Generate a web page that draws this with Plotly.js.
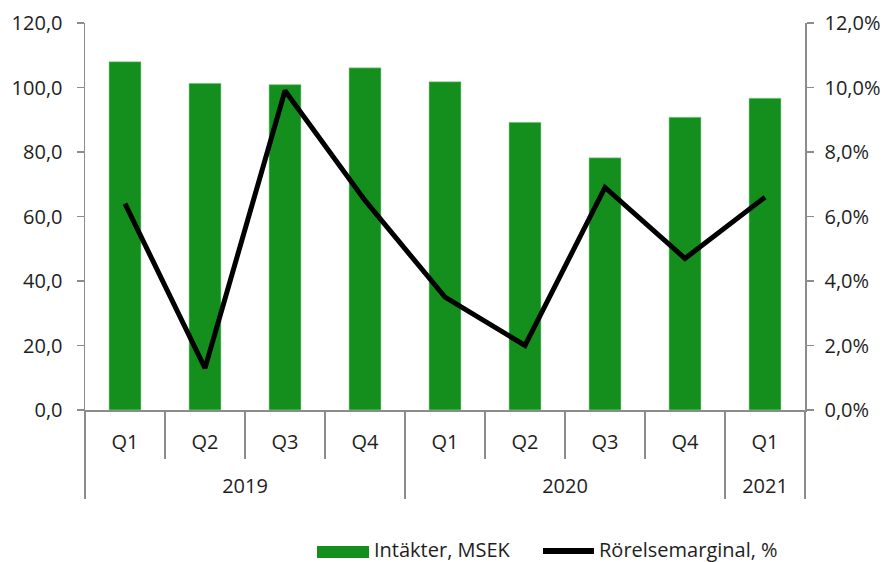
<!DOCTYPE html>
<html>
<head>
<meta charset="utf-8">
<script src="https://cdn.plot.ly/plotly-3.0.1.min.js"></script>
<style>html,body{margin:0;padding:0;background:#fff;}#chart{width:886px;height:562px;}</style>
</head>
<body>
<div id="chart"></div>
<script>
var years = ['2019','2019','2019','2019','2020','2020','2020','2020','2021'];
var quarters = ['Q1','Q2','Q3','Q4','Q1','Q2','Q3','Q4','Q1'];
var revenue = [108.0, 101.3, 100.9, 106.1, 101.8, 89.2, 78.2, 90.8, 96.7];
var margin = [6.4, 1.3, 9.9, 6.5, 3.5, 2.0, 6.9, 4.7, 6.6];
var seriesNames = ['Intäkter, MSEK', 'Rörelsemarginal, %'];
var seriesColors = ['#148f1e', '#000000'];

var FONT = '"Open Sans", "Noto Sans", sans-serif';
var AX = '#8c8c8c';
var TXT = '#1e1e1e';
var W = 886, H = 562, ML = 85, MR = 81, MT = 23, MB = 152;
var PW = W - ML - MR, PH = H - MT - MB;
function px(x) { return (x - ML) / PW; }
function py(y) { return (H - MB - y) / PH; }

// quarter labels get an empty second line so the year row sits lower
var quarterLabels = quarters.map(function (q) {
  return q + '<br><span style="font-size:27px">\u00a0</span>';
});

var traces = [
  {
    type: 'bar', name: seriesNames[0],
    x: [years, quarterLabels], y: revenue,
    marker: {color: seriesColors[0], line: {color: '#9fd6a3', width: 0.6}},
    yaxis: 'y', hoverinfo: 'skip', showlegend: false
  },
  {
    type: 'scatter', mode: 'lines', name: seriesNames[1],
    x: [years, quarterLabels], y: margin,
    line: {color: seriesColors[1], width: 5},
    yaxis: 'y2', hoverinfo: 'skip', showlegend: false
  }
];

var shapes = [
  {type: 'rect', xref: 'paper', yref: 'paper', x0: px(317), x1: px(369), y0: py(558), y1: py(546),
   fillcolor: seriesColors[0], line: {width: 0}},
  {type: 'line', xref: 'paper', yref: 'paper', x0: px(543), x1: px(594), y0: py(551), y1: py(551),
   line: {color: seriesColors[1], width: 6}}
];
var annotations = [
  {xref: 'paper', yref: 'paper', x: px(372), y: py(549), xanchor: 'left', yanchor: 'middle',
   text: seriesNames[0], showarrow: false, font: {family: FONT, size: 20, color: TXT}},
  {xref: 'paper', yref: 'paper', x: px(597), y: py(549), xanchor: 'left', yanchor: 'middle',
   text: seriesNames[1], showarrow: false, font: {family: FONT, size: 20, color: TXT}}
];

var layout = {
  width: W, height: H,
  margin: {l: ML, r: MR, t: MT, b: MB},
  paper_bgcolor: '#fff', plot_bgcolor: '#fff',
  font: {family: FONT, size: 20, color: TXT},
  separators: ',.',
  bargap: 0.6,
  showlegend: false,
  shapes: shapes,
  annotations: annotations,
  xaxis: {
    type: 'multicategory', automargin: false,
    showline: true, linecolor: AX, linewidth: 1.5,
    ticks: 'outside', tickson: 'boundaries', ticklen: 47, tickcolor: AX, tickwidth: 1.5,
    ticklabelstandoff: 13,
    showdividers: true, dividercolor: AX, dividerwidth: 1.5,
    showgrid: false, zeroline: false,
    tickfont: {family: FONT, size: 20, color: TXT}
  },
  yaxis: {
    range: [0, 120], dtick: 20, tick0: 0, tickformat: '.1f', automargin: false,
    showline: true, linecolor: AX, linewidth: 1.5,
    ticks: 'outside', ticklen: 7, tickcolor: AX, tickwidth: 1.5,
    ticklabelstandoff: 10,
    showgrid: false, zeroline: false,
    tickfont: {family: FONT, size: 20, color: TXT}
  },
  yaxis2: {
    overlaying: 'y', side: 'right', automargin: false,
    range: [0, 12], dtick: 2, tick0: 0, tickformat: '.1f', ticksuffix: '%',
    showline: true, linecolor: AX, linewidth: 1.5,
    ticks: 'outside', ticklen: 7, tickcolor: AX, tickwidth: 1.5,
    ticklabelstandoff: 7,
    showgrid: false, zeroline: false,
    tickfont: {family: FONT, size: 20, color: TXT}
  }
};

Plotly.newPlot('chart', traces, layout, {staticPlot: true, displayModeBar: false});
</script>
</body>
</html>
